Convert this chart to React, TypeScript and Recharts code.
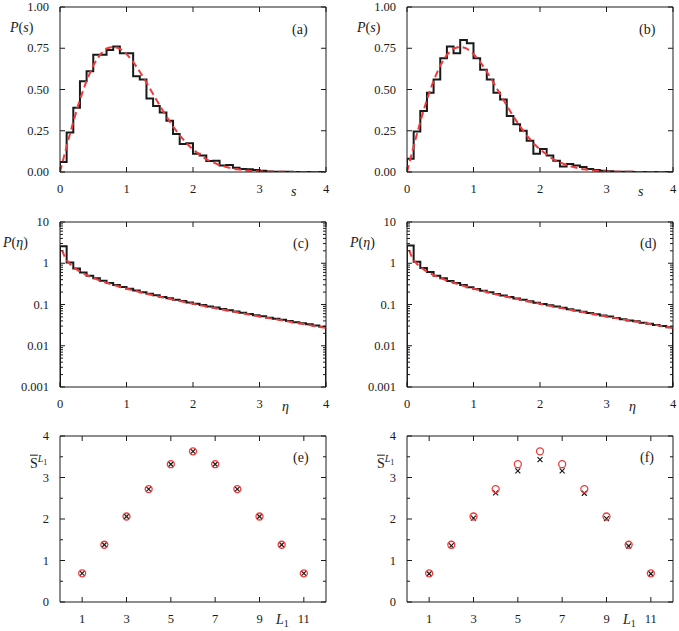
import React from 'react';
import { ComposedChart, Line, Scatter, XAxis, YAxis } from 'recharts';

// spacing distributions, histogram bins of width 0.1 on [0, 4]
const BIN_WIDTH = 0.1;
const binsA = [
  0.06, 0.24, 0.39, 0.55, 0.61, 0.71, 0.71, 0.74, 0.76, 0.72,
  0.72, 0.58, 0.56, 0.445, 0.4, 0.36, 0.31, 0.23, 0.17, 0.175,
  0.11, 0.1, 0.067, 0.068, 0.04, 0.042, 0.026, 0.018, 0.016, 0.012,
  0.008, 0.003, 0.002, 0.001, 0.001, 0, 0, 0, 0, 0,
];
const binsB = [
  0.08, 0.245, 0.37, 0.48, 0.56, 0.69, 0.76, 0.72, 0.8, 0.78,
  0.69, 0.62, 0.56, 0.48, 0.44, 0.34, 0.29, 0.25, 0.19, 0.11,
  0.14, 0.1, 0.068, 0.034, 0.048, 0.04, 0.03, 0.018, 0.012, 0.008,
  0.004, 0.002, 0.001, 0.001, 0, 0, 0, 0, 0, 0,
];
const wignerS = [0, 0.1, 0.2, 0.3, 0.4, 0.5, 0.6, 0.7, 0.8, 0.9, 1.0, 1.1, 1.2, 1.3, 1.4, 1.5, 1.6, 1.7, 1.8, 1.9, 2.0, 2.2, 2.4, 2.6, 2.8, 3.0, 3.2, 3.5, 4.0];
const wignerP = [0, 0.156, 0.305, 0.439, 0.554, 0.646, 0.71, 0.749, 0.76, 0.748, 0.716, 0.668, 0.608, 0.542, 0.472, 0.403, 0.337, 0.276, 0.222, 0.175, 0.136, 0.077, 0.041, 0.02, 0.009, 0.004, 0.0016, 0.0003, 0];

// intensity distributions (log axis)
const binsC = [
  2.6, 1.04, 0.75, 0.6, 0.5, 0.43, 0.375, 0.33, 0.295, 0.265,
  0.24, 0.218, 0.198, 0.182, 0.167, 0.153, 0.141, 0.131, 0.121, 0.112,
  0.104, 0.097, 0.09, 0.084, 0.078, 0.073, 0.068, 0.063, 0.059, 0.055,
  0.052, 0.048, 0.045, 0.0425, 0.04, 0.0373, 0.035, 0.033, 0.031, 0.029,
];
const binsD = [
  2.7, 1.08, 0.77, 0.61, 0.5, 0.43, 0.37, 0.33, 0.295, 0.263,
  0.238, 0.216, 0.197, 0.18, 0.166, 0.152, 0.14, 0.13, 0.12, 0.111,
  0.103, 0.096, 0.089, 0.083, 0.077, 0.072, 0.067, 0.062, 0.058, 0.054,
  0.051, 0.047, 0.044, 0.041, 0.039, 0.036, 0.034, 0.032, 0.03, 0.028,
];
const ptEta = [0.035, 0.05, 0.075, 0.1, 0.15, 0.2, 0.3, 0.4, 0.5, 0.6, 0.7, 0.8, 1.0, 1.2, 1.4, 1.6, 1.8, 2.0, 2.25, 2.5, 2.75, 3.0, 3.25, 3.5, 3.75, 4.0];
const ptP = [2.1, 1.74, 1.4, 1.2, 0.956, 0.807, 0.627, 0.516, 0.439, 0.382, 0.336, 0.299, 0.242, 0.2, 0.1675, 0.1417, 0.1209, 0.1038, 0.0864, 0.0723, 0.0608, 0.0514, 0.0436, 0.0371, 0.0316, 0.027];
const LOG_FLOOR = 0.001;

// mean entropy vs L1
const L1 = [1, 2, 3, 4, 5, 6, 7, 8, 9, 10, 11];
const refE = [0.69, 1.38, 2.06, 2.72, 3.32, 3.63, 3.32, 2.72, 2.06, 1.38, 0.69];
const simE = [0.69, 1.38, 2.06, 2.72, 3.32, 3.63, 3.32, 2.72, 2.06, 1.38, 0.69];
const refF = [0.69, 1.38, 2.06, 2.72, 3.32, 3.63, 3.32, 2.72, 2.06, 1.38, 0.69];
const simF = [0.68, 1.36, 2.02, 2.63, 3.16, 3.43, 3.16, 2.62, 2.01, 1.35, 0.68];

// ticks
const sTicks = [0, 1, 2, 3, 4];
const psTicks = [0, 0.25, 0.5, 0.75, 1];
const logMajor = [0.001, 0.01, 0.1, 1, 10];
const logTicks = [
  0.001, 0.002, 0.003, 0.004, 0.005, 0.006, 0.007, 0.008, 0.009,
  0.01, 0.02, 0.03, 0.04, 0.05, 0.06, 0.07, 0.08, 0.09,
  0.1, 0.2, 0.3, 0.4, 0.5, 0.6, 0.7, 0.8, 0.9,
  1, 2, 3, 4, 5, 6, 7, 8, 9, 10,
];
const lTicks = [1, 3, 5, 7, 9, 11];
const entMajor = [0, 1, 2, 3, 4];
const entTicks = [0, 0.5, 1, 1.5, 2, 2.5, 3, 3.5, 4];

const RED = '#ef3b3b';
const INK = '#1a1a1a';
const FONT = '"Liberation Serif", "DejaVu Serif", serif';
const PLOT_W = 266;
const PAD_L = 60;
const PAD_R = 8;
const PAD_T = 8;
const PAD_B = 30;

const toSteps = (bins: number[], floor: number) => [
  { x: 0, y: floor },
  ...bins.map((y, i) => ({ x: i * BIN_WIDTH, y })),
  { x: 4, y: bins[bins.length - 1] },
  { x: 4, y: floor },
];
const zip = (xs: number[], ys: number[]) => xs.map((x, i) => ({ x, y: ys[i] }));

const AxisTick = (props: any) => {
  const { x, y, payload, side, major, fmt } = props;
  const v = payload.value;
  const isMajor = major.includes(v);
  const len = isMajor ? 5 : 3;
  const label = isMajor && fmt ? fmt(v) : '';
  const text = { fontFamily: FONT, fontSize: 12.5, fill: INK };
  if (side === 'left') {
    return (
      <g>
        <line x1={x} x2={x + len} y1={y} y2={y} stroke={INK} />
        {label !== '' && <text x={x - 11} y={y + 4} textAnchor="end" {...text}>{label}</text>}
      </g>
    );
  }
  if (side === 'right') return <line x1={x} x2={x - len} y1={y} y2={y} stroke={INK} />;
  if (side === 'top') return <line x1={x} x2={x} y1={y} y2={y + len} stroke={INK} />;
  return (
    <g>
      <line x1={x} x2={x} y1={y} y2={y - len} stroke={INK} />
      {label !== '' && <text x={x} y={y + 21} textAnchor="middle" {...text}>{label}</text>}
    </g>
  );
};

interface PanelProps {
  x0: number;
  y0: number;
  h: number;
  xDomain: number[];
  xTicks: number[];
  yDomain: number[];
  yTicks: number[];
  yMajor: number[];
  yFmt: (v: number) => string;
  logY?: boolean;
  children: React.ReactNode;
}

const Panel = ({ x0, y0, h, xDomain, xTicks, yDomain, yTicks, yMajor, yFmt, logY, children }: PanelProps) => {
  const axis = { stroke: INK, strokeWidth: 1 };
  const common = { tickSize: 0, tickMargin: 0, tickLine: false, axisLine: axis, interval: 0 as const, allowDataOverflow: true };
  return (
    <div style={{ position: 'absolute', left: x0 - PAD_L, top: y0 - PAD_T }}>
      <ComposedChart width={PLOT_W + PAD_L + PAD_R} height={h + PAD_T + PAD_B} margin={{ top: 0, right: 0, bottom: 0, left: 0 }}>
        <XAxis xAxisId="b" type="number" dataKey="x" orientation="bottom" height={PAD_B} domain={xDomain} ticks={xTicks} {...common}
          tick={(p: any) => <AxisTick {...p} side="bottom" major={xTicks} fmt={(v: number) => String(v)} />} />
        <XAxis xAxisId="t" type="number" dataKey="x" orientation="top" height={PAD_T} domain={xDomain} ticks={xTicks} {...common}
          tick={(p: any) => <AxisTick {...p} side="top" major={xTicks} />} />
        <YAxis yAxisId="l" type="number" orientation="left" width={PAD_L} domain={yDomain} ticks={yTicks} scale={logY ? 'log' : 'auto'} {...common}
          tick={(p: any) => <AxisTick {...p} side="left" major={yMajor} fmt={yFmt} />} />
        <YAxis yAxisId="r" type="number" orientation="right" width={PAD_R} domain={yDomain} ticks={yTicks} scale={logY ? 'log' : 'auto'} {...common}
          tick={(p: any) => <AxisTick {...p} side="right" major={yMajor} />} />
        {children}
      </ComposedChart>
    </div>
  );
};

const Lbl = ({ x, y, children }: { x: number; y: number; children: React.ReactNode }) => (
  <div style={{ position: 'absolute', left: x, top: y, transform: 'translateY(-50%)', fontFamily: FONT, fontSize: 14, color: INK, whiteSpace: 'nowrap', lineHeight: 1 }}>
    {children}
  </div>
);

const Ring = (p: any) => <circle cx={p.cx} cy={p.cy} r={3.5} fill="none" stroke={RED} strokeWidth={1.3} />;
const Cross = (p: any) => (
  <g stroke={INK} strokeWidth={1.2}>
    <line x1={p.cx - 2.5} y1={p.cy - 2.5} x2={p.cx + 2.5} y2={p.cy + 2.5} />
    <line x1={p.cx - 2.5} y1={p.cy + 2.5} x2={p.cx + 2.5} y2={p.cy - 2.5} />
  </g>
);

const histLine = (data: { x: number; y: number }[]) => (
  <Line xAxisId="b" yAxisId="l" data={data} dataKey="y" type="stepAfter" stroke={INK} strokeWidth={2} dot={false} isAnimationActive={false} />
);
const fitLine = (data: { x: number; y: number }[]) => (
  <Line xAxisId="b" yAxisId="l" data={data} dataKey="y" type="linear" stroke={RED} strokeWidth={2} strokeDasharray="7 4" dot={false} isAnimationActive={false} />
);

const Ps = () => (<><i>P</i>(<i>s</i>)</>);
const Peta = () => (<><i>P</i>(<i>η</i>)</>);
const Sbar = () => (
  <span><span style={{ textDecoration: 'overline' }}>S</span><sup style={{ fontSize: 10 }}><i>L</i><sub style={{ fontSize: 8 }}>1</sub></sup></span>
);
const L1Lbl = () => (<span><i>L</i><sub style={{ fontSize: 10 }}>1</sub></span>);

export default function App() {
  const fmt2 = (v: number) => v.toFixed(2);
  const fmtLog = (v: number) => String(v);
  const fmtInt = (v: number) => String(v);
  return (
    <div style={{ position: 'absolute', left: 0, top: 0, width: 679, height: 631, background: '#fff' }}>
      {[{ x0: 60, bins: binsA, tag: '(a)' }, { x0: 407, bins: binsB, tag: '(b)' }].map((p) => (
        <React.Fragment key={p.tag}>
          <Panel x0={p.x0} y0={7} h={165} xDomain={[0, 4]} xTicks={sTicks} yDomain={[0, 1]} yTicks={psTicks} yMajor={psTicks} yFmt={fmt2}>
            {histLine(toSteps(p.bins, 0))}
            {fitLine(zip(wignerS, wignerP))}
          </Panel>
          <Lbl x={p.x0 - 50} y={28}><Ps /></Lbl>
          <Lbl x={p.x0 + 232} y={30}>{p.tag}</Lbl>
          <Lbl x={p.x0 + 231} y={192}><i>s</i></Lbl>
        </React.Fragment>
      ))}
      {[{ x0: 60, bins: binsC, tag: '(c)' }, { x0: 407, bins: binsD, tag: '(d)' }].map((p) => (
        <React.Fragment key={p.tag}>
          <Panel x0={p.x0} y0={222} h={165} xDomain={[0, 4]} xTicks={sTicks} yDomain={[0.001, 10]} yTicks={logTicks} yMajor={logMajor} yFmt={fmtLog} logY>
            {histLine(toSteps(p.bins, LOG_FLOOR))}
            {fitLine(zip(ptEta, ptP))}
          </Panel>
          <Lbl x={p.x0 - 57} y={243}><Peta /></Lbl>
          <Lbl x={p.x0 + 233} y={244}>{p.tag}</Lbl>
          <Lbl x={p.x0 + 222} y={407}><i>η</i></Lbl>
        </React.Fragment>
      ))}
      {[{ x0: 60, ref: refE, sim: simE, tag: '(e)' }, { x0: 407, ref: refF, sim: simF, tag: '(f)' }].map((p) => (
        <React.Fragment key={p.tag}>
          <Panel x0={p.x0} y0={436} h={166} xDomain={[0, 12]} xTicks={lTicks} yDomain={[0, 4]} yTicks={entTicks} yMajor={entMajor} yFmt={fmtInt}>
            <Scatter xAxisId="b" yAxisId="l" data={zip(L1, p.sim)} dataKey="y" shape={Cross} isAnimationActive={false} />
            <Scatter xAxisId="b" yAxisId="l" data={zip(L1, p.ref)} dataKey="y" shape={Ring} isAnimationActive={false} />
          </Panel>
          <Lbl x={p.x0 - 30} y={462}><Sbar /></Lbl>
          <Lbl x={p.x0 + 233} y={458}>{p.tag}</Lbl>
          <Lbl x={p.x0 + 216} y={621}><L1Lbl /></Lbl>
        </React.Fragment>
      ))}
    </div>
  );
}
